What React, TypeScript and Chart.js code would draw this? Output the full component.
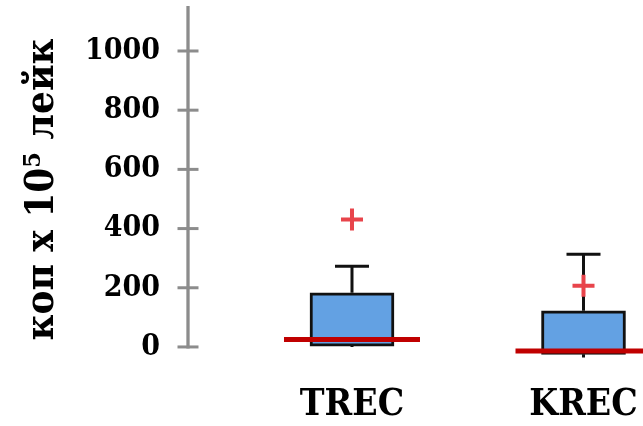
import React, { useEffect, useRef } from "react";
import { Chart, registerables } from "chart.js";

Chart.register(...registerables);

// ---- data ----
const categories = ["TREC", "KREC"];
const positions = [1, 2];
const q1 = [3, -25];
const q3 = [183, 122];
const medians = [25, -14];
const whiskerMax = [273, 313];
const whiskerMin = [0, -36];
const markers = [431, 207];
const yTicks = [0, 200, 400, 600, 800, 1000];
const yTitle = "коп x 10⁵ лейк";

const FONT = "'DejaVu Serif Condensed', 'DejaVu Serif', serif";

const boxExtras = {
  id: "boxExtras",
  beforeDatasetsDraw(chart: any) {
    const { ctx, scales } = chart;
    const x = scales.x;
    const y = scales.y;
    ctx.save();
    ctx.strokeStyle = "#111111";
    ctx.lineWidth = 3;
    positions.forEach((p, i) => {
      const px = x.getPixelForValue(p);
      const top = y.getPixelForValue(whiskerMax[i]);
      ctx.beginPath();
      ctx.moveTo(px, y.getPixelForValue(q3[i]));
      ctx.lineTo(px, top);
      ctx.moveTo(px - 17, top);
      ctx.lineTo(px + 17, top);
      ctx.moveTo(px, y.getPixelForValue(q1[i]));
      ctx.lineTo(px, y.getPixelForValue(whiskerMin[i]));
      ctx.stroke();
    });
    ctx.restore();
  },
  afterDatasetsDraw(chart: any) {
    const { ctx, scales } = chart;
    const x = scales.x;
    const y = scales.y;
    ctx.save();
    ctx.strokeStyle = "#C00000";
    ctx.lineWidth = 5;
    positions.forEach((p, i) => {
      const px = x.getPixelForValue(p);
      const py = y.getPixelForValue(medians[i]);
      ctx.beginPath();
      ctx.moveTo(px - 68, py);
      ctx.lineTo(px + 68, py);
      ctx.stroke();
    });
    ctx.restore();
  },
  afterDraw(chart: any) {
    const { ctx, scales, chartArea } = chart;
    const y = scales.y;
    const ax = chartArea.left + 1;
    ctx.save();
    ctx.strokeStyle = "#8C8C8C";
    ctx.lineWidth = 3.3;
    ctx.beginPath();
    ctx.moveTo(ax, chartArea.top);
    ctx.lineTo(ax, y.getPixelForValue(0) + 1.5);
    ctx.stroke();
    ctx.lineWidth = 3;
    yTicks.forEach((v) => {
      const py = y.getPixelForValue(v);
      ctx.beginPath();
      ctx.moveTo(ax - 10.5, py);
      ctx.lineTo(ax + 10.5, py);
      ctx.stroke();
    });
    ctx.restore();
  },
};

const zeroPad = (s: any) => {
  s.paddingTop = 0;
  s.paddingBottom = 0;
  s.paddingLeft = 0;
  s.paddingRight = 0;
};

export default function App() {
  const ref = useRef<HTMLCanvasElement | null>(null);

  useEffect(() => {
    if (!ref.current) return;
    const chart = new Chart(ref.current, {
      type: "bar",
      data: {
        datasets: [
          {
            type: "bar",
            data: positions.map((p, i) => ({ x: p, y: [q1[i], q3[i]] })) as any,
            backgroundColor: "#63A1E3",
            borderColor: "#111111",
            borderWidth: 3,
            borderSkipped: false,
            barThickness: 84,
          } as any,
          {
            type: "scatter",
            data: positions.map((p, i) => ({ x: p, y: markers[i] })),
            pointStyle: "cross",
            pointRadius: 11,
            pointBorderWidth: 4,
            borderColor: "#E8444B",
            backgroundColor: "#E8444B",
            showLine: false,
          } as any,
        ],
      },
      options: {
        responsive: false,
        animation: false,
        events: [],
        layout: { autoPadding: false, padding: { top: 6, left: 0, right: 0, bottom: 0 } },
        plugins: { legend: { display: false }, tooltip: { enabled: false } },
        scales: {
          x: {
            type: "linear",
            min: 0.2873,
            max: 2.257,
            offset: false,
            grid: { display: false, drawTicks: false },
            border: { display: false },
            afterBuildTicks: (s: any) => {
              s.ticks = positions.map((v) => ({ value: v }));
            },
            afterFit: (s: any) => {
              s.height = 53;
              zeroPad(s);
            },
            ticks: {
              autoSkip: false,
              maxRotation: 0,
              padding: 10,
              color: "#000",
              font: { family: FONT, size: 37, weight: "bold" },
              callback: (v: any) => categories[positions.indexOf(Number(v))] ?? "",
            },
          },
          y: {
            type: "linear",
            min: -88,
            max: 1152,
            grid: { display: false, drawTicks: false },
            border: { display: false },
            afterBuildTicks: (s: any) => {
              s.ticks = yTicks.map((v) => ({ value: v }));
            },
            afterFit: (s: any) => {
              s.width = 187;
              zeroPad(s);
            },
            ticks: {
              padding: 27,
              color: "#000",
              font: { family: FONT, size: 30, weight: "bold" },
              callback: (v: any) => String(v),
            },
            title: {
              display: true,
              text: yTitle,
              color: "#000",
              padding: { top: 19, bottom: 0 },
              font: { family: FONT, size: 40, weight: "bold" },
            },
          },
        },
      } as any,
      plugins: [boxExtras],
    });
    return () => chart.destroy();
  }, []);

  return (
    <div style={{ position: "fixed", left: 0, top: 0, width: 643, height: 426, background: "#fff" }}>
      <canvas ref={ref} width={643} height={426} style={{ display: "block" }} />
    </div>
  );
}
